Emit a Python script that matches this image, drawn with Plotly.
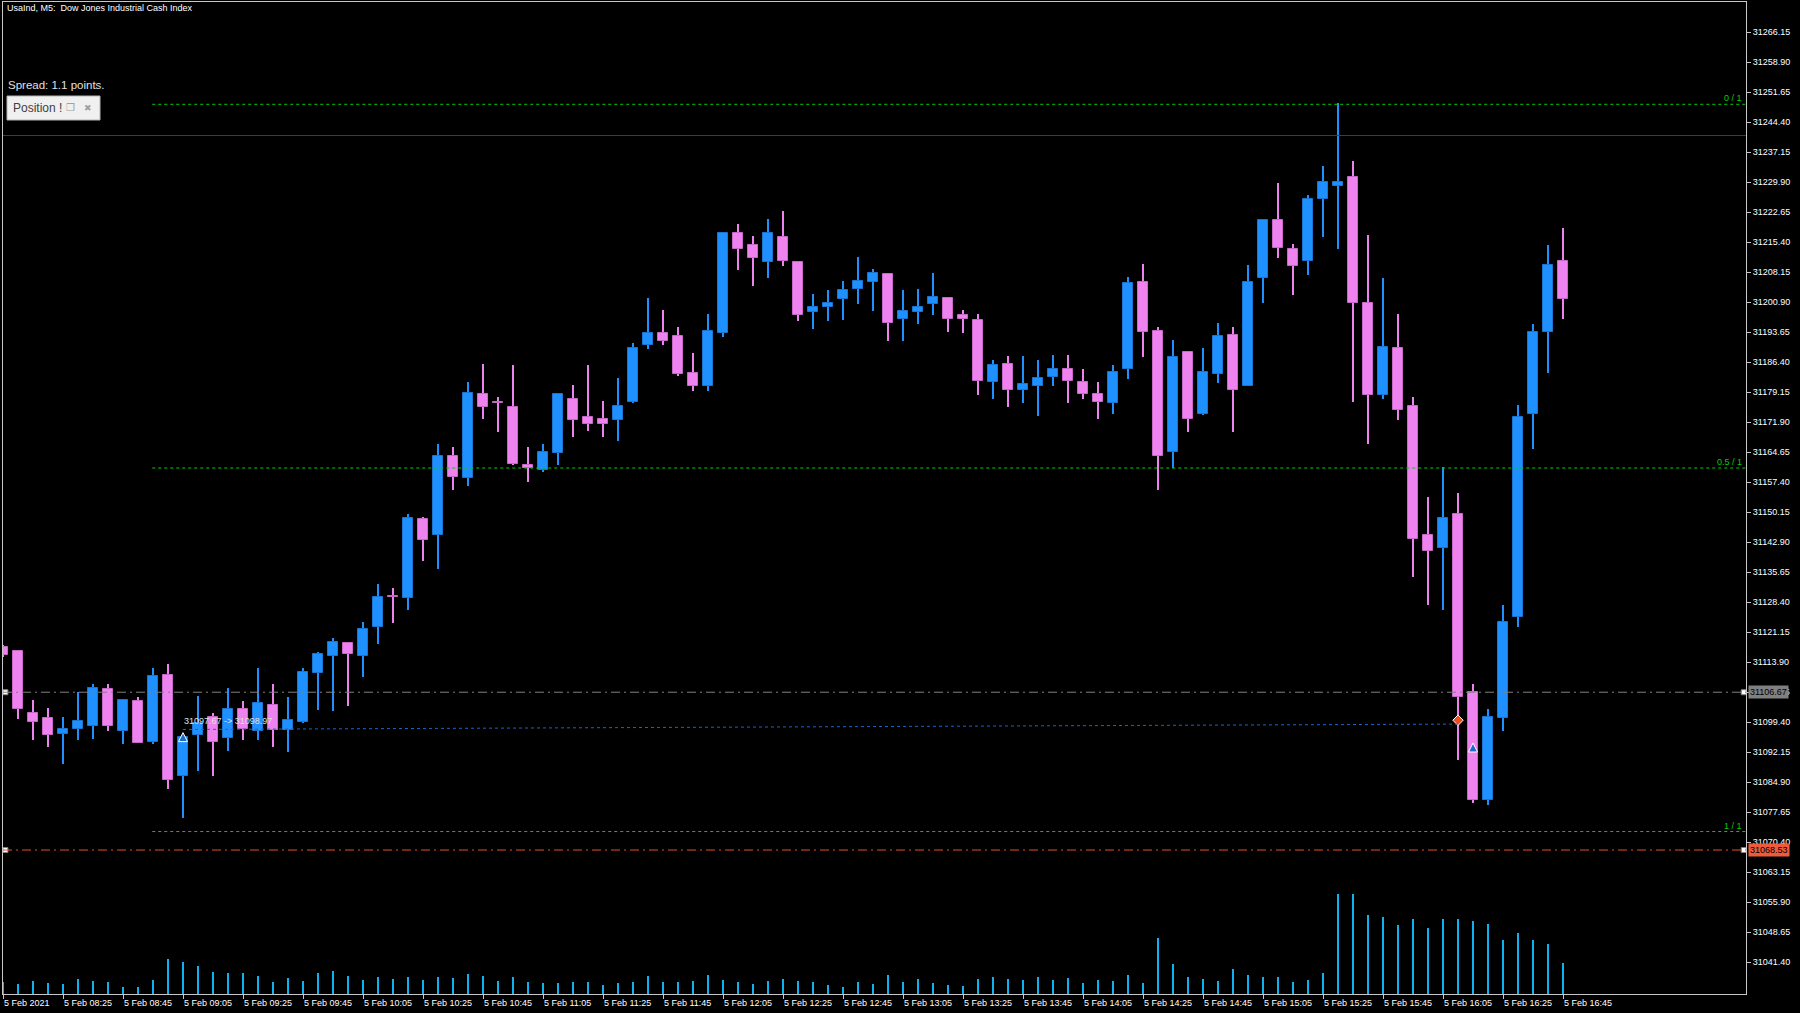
import plotly.graph_objects as go

# ---------------- data ----------------
bar_index = list(range(105))
opens = [31117.53, 31116.63, 31101.65, 31100.37, 31096.57, 31097.71, 31098.58, 31107.38, 31097.23, 31104.62,
         31094.71, 31110.76, 31086.35, 31096.33, 31100.61, 31095.68, 31102.62, 31097.30, 31103.51, 31097.54,
         31099.47, 31111.32, 31115.35, 31118.64, 31115.42, 31122.43, 31129.85, 31129.37, 31148.61, 31144.67,
         31163.76, 31158.44, 31178.74, 31176.81, 31175.60, 31161.51, 31160.45, 31164.56, 31177.61, 31173.11,
         31172.63, 31172.46, 31176.74, 31190.66, 31193.48, 31192.76, 31183.74, 31180.68, 31193.56, 31217.72,
         31214.75, 31210.57, 31216.76, 31210.72, 31198.56, 31199.70, 31201.77, 31204.04, 31205.88, 31207.74,
         31196.79, 31198.56, 31200.57, 31201.87, 31197.76, 31196.63, 31181.57, 31185.99, 31179.78, 31180.60,
         31182.92, 31184.86, 31181.64, 31178.67, 31176.57, 31184.71, 31205.88, 31193.90, 31164.80, 31188.89,
         31173.84, 31183.58, 31193.00, 31180.60, 31206.70, 31220.86, 31213.86, 31210.81, 31225.79, 31229.01,
         31231.11, 31200.66, 31178.60, 31189.84, 31175.72, 31144.67, 31141.62, 31149.72, 31106.63, 31080.53,
         31100.44, 31124.73, 31173.79, 31193.82, 31210.91]
highs = [31118.08, 31116.63, 31104.86, 31102.86, 31100.61, 31106.65, 31108.66, 31108.66, 31104.86, 31105.52,
         31112.52, 31113.49, 31096.33, 31105.76, 31101.65, 31107.62, 31104.62, 31112.52, 31108.66, 31105.52,
         31112.52, 31116.46, 31119.85, 31118.81, 31123.64, 31132.75, 31131.86, 31149.74, 31148.95, 31166.73,
         31165.86, 31181.71, 31185.99, 31178.02, 31185.75, 31165.86, 31166.73, 31178.98, 31180.84, 31185.75,
         31176.98, 31182.61, 31190.99, 31201.82, 31199.04, 31194.93, 31188.72, 31198.08, 31217.97, 31219.83,
         31216.85, 31220.96, 31222.97, 31210.96, 31202.98, 31203.88, 31205.98, 31211.85, 31208.88, 31207.74,
         31203.88, 31204.12, 31207.98, 31201.87, 31198.97, 31198.00, 31186.89, 31187.85, 31187.85, 31186.89,
         31188.09, 31188.09, 31184.86, 31181.64, 31185.75, 31206.95, 31210.09, 31194.86, 31191.87, 31188.89,
         31189.86, 31195.97, 31194.86, 31209.84, 31220.86, 31229.73, 31214.99, 31226.83, 31233.84, 31249.07,
         31235.05, 31217.10, 31206.85, 31198.03, 31178.09, 31153.75, 31161.08, 31154.77, 31108.66, 31102.57,
         31127.77, 31176.04, 31195.73, 31214.75, 31218.91]
lows = [31115.18, 31100.13, 31095.20, 31093.36, 31089.26, 31095.20, 31095.44, 31097.23, 31094.23, 31094.33,
        31094.23, 31083.36, 31076.35, 31087.71, 31086.50, 31092.47, 31095.20, 31095.20, 31093.36, 31092.22,
        31099.30, 31102.45, 31102.21, 31103.41, 31110.42, 31118.32, 31123.47, 31126.47, 31138.46, 31136.45,
        31155.47, 31156.58, 31172.70, 31169.56, 31161.58, 31157.55, 31159.82, 31161.58, 31168.42, 31169.73,
        31168.42, 31167.46, 31176.50, 31189.54, 31190.66, 31183.09, 31179.47, 31179.54, 31192.45, 31208.78,
        31204.84, 31206.70, 31209.60, 31196.46, 31194.45, 31196.46, 31196.70, 31200.57, 31198.73, 31191.48,
        31191.55, 31195.59, 31197.91, 31193.80, 31193.56, 31178.57, 31177.46, 31175.67, 31176.57, 31173.35,
        31180.60, 31176.50, 31177.46, 31172.70, 31173.84, 31182.44, 31187.68, 31155.47, 31160.78, 31169.49,
        31173.59, 31181.47, 31169.49, 31180.60, 31200.81, 31211.68, 31202.59, 31207.57, 31216.68, 31213.71,
        31176.81, 31166.54, 31177.65, 31172.53, 31134.42, 31127.66, 31126.64, 31090.41, 31079.85, 31079.51,
        31097.40, 31122.38, 31165.47, 31183.91, 31196.75]
closes = [31115.59, 31102.69, 31099.47, 31096.33, 31097.78, 31099.64, 31107.76, 31098.58, 31104.86, 31094.33,
          31110.52, 31085.46, 31095.85, 31099.31, 31094.71, 31102.62, 31097.71, 31103.99, 31097.54, 31099.89,
          31111.63, 31115.98, 31118.88, 31115.83, 31121.88, 31129.61, 31129.61, 31148.77, 31143.46, 31163.76,
          31158.68, 31178.98, 31175.67, 31176.62, 31161.83, 31160.79, 31164.73, 31178.74, 31172.46, 31171.56,
          31171.56, 31175.84, 31189.86, 31193.48, 31191.55, 31183.58, 31180.60, 31193.90, 31217.72, 31213.71,
          31211.68, 31217.72, 31210.81, 31197.91, 31199.84, 31200.73, 31203.88, 31205.98, 31207.91, 31195.83,
          31198.87, 31199.84, 31202.11, 31196.79, 31196.79, 31181.81, 31185.75, 31179.71, 31181.09, 31182.61,
          31184.86, 31181.81, 31178.82, 31176.81, 31183.99, 31205.64, 31193.80, 31163.69, 31187.76, 31172.70,
          31183.99, 31192.76, 31179.71, 31205.88, 31220.86, 31213.95, 31209.60, 31225.87, 31229.90, 31229.90,
          31200.81, 31178.60, 31190.05, 31174.80, 31143.75, 31140.83, 31148.83, 31105.61, 31080.53, 31100.78,
          31123.62, 31173.11, 31193.70, 31209.80, 31201.80]
volumes = [120, 100, 133, 113, 103, 150, 133, 123, 73, 73,
           143, 350, 320, 283, 223, 207, 207, 180, 123, 160,
           133, 207, 233, 180, 143, 170, 150, 170, 143, 170,
           160, 200, 180, 133, 170, 123, 113, 113, 123, 123,
           93, 113, 123, 180, 123, 123, 133, 187, 143, 123,
           103, 133, 150, 133, 123, 93, 67, 123, 103, 190,
           123, 150, 113, 93, 83, 150, 170, 150, 143, 170,
           143, 160, 113, 143, 133, 190, 113, 560, 303, 170,
           150, 133, 253, 190, 170, 170, 123, 143, 207, 1000,
           1000, 795, 770, 690, 750, 660, 750, 750, 726, 700,
           540, 610, 540, 496, 310]

x_tick_idx = list(range(0, 105, 4))
x_tick_labels = ["5 Feb 2021", "5 Feb 08:25", "5 Feb 08:45", "5 Feb 09:05", "5 Feb 09:25", "5 Feb 09:45",
                 "5 Feb 10:05", "5 Feb 10:25", "5 Feb 10:45", "5 Feb 11:05", "5 Feb 11:25", "5 Feb 11:45",
                 "5 Feb 12:05", "5 Feb 12:25", "5 Feb 12:45", "5 Feb 13:05", "5 Feb 13:25", "5 Feb 13:45",
                 "5 Feb 14:05", "5 Feb 14:25", "5 Feb 14:45", "5 Feb 15:05", "5 Feb 15:25", "5 Feb 15:45",
                 "5 Feb 16:05", "5 Feb 16:25", "5 Feb 16:45"]
y_tick_vals = [31266.15, 31258.90, 31251.65, 31244.40, 31237.15, 31229.90, 31222.65, 31215.40,
               31208.15, 31200.90, 31193.65, 31186.40, 31179.15, 31171.90, 31164.65, 31157.40,
               31150.15, 31142.90, 31135.65, 31128.40, 31121.15, 31113.90, 31106.65, 31099.40,
               31092.15, 31084.90, 31077.65, 31070.40, 31063.15, 31055.90, 31048.65, 31041.40]

bid_level = 31106.67
stop_level = 31068.53
alert_level = 31241.20
fib_levels = [31248.75, 31160.85, 31073.00]
fib_labels = ["0 / 1", "0.5 / 1", "1 / 1"]
fib_start = 9.95
trade_open = (12, 31097.67)
trade_close = (97, 31098.97)
trade_text = "31097.67 -> 31098.97"
buy_arrows_x = [12, 98]
buy_arrows_y = [31096.90, 31094.40]
close_mark_x = [97]
close_mark_y = [31099.90]

# ---------------- styling ----------------
W, H = 1800, 1013
ML, MR, MT, MB = 3, 54, 2, 19
X_RANGE = [0.0, 116.2]
Y_RANGE = [31033.74, 31273.47]
BULL = "#1E90FF"
BEAR = "#EE82EE"
BULL_EDGE = "#1A74D2"
BEAR_EDGE = "#C767C7"
VOL = "#0DB2F0"
AXC = "#C8C8C8"
FONT = "Liberation Sans, Arial, sans-serif"


def pp(x, y):
    """pixel position -> paper coordinates (for decorations only)"""
    return (x - ML) / (W - ML - MR), (H - MB - y) / (H - MT - MB)


bull_idx = [i for i in bar_index if closes[i] >= opens[i]]
bear_idx = [i for i in bar_index if closes[i] < opens[i]]

fig = go.Figure()

# volumes
fig.add_trace(go.Bar(x=bar_index, y=volumes, width=0.14, marker=dict(color=VOL, line=dict(width=0)),
                     yaxis="y2", hoverinfo="skip", showlegend=False))

# wicks and bodies
for idx, col, edge in [(bull_idx, BULL, BULL_EDGE), (bear_idx, BEAR, BEAR_EDGE)]:
    fig.add_trace(go.Bar(x=[bar_index[i] for i in idx],
                         y=[highs[i] - lows[i] for i in idx],
                         base=[lows[i] for i in idx],
                         width=0.07, marker=dict(color=col, line=dict(width=0)),
                         hoverinfo="skip", showlegend=False))
for idx, col, edge in [(bull_idx, BULL, BULL_EDGE), (bear_idx, BEAR, BEAR_EDGE)]:
    fig.add_trace(go.Bar(x=[bar_index[i] for i in idx],
                         y=[max(abs(closes[i] - opens[i]), 0.25) for i in idx],
                         base=[min(opens[i], closes[i]) for i in idx],
                         width=0.64, marker=dict(color=col, line=dict(color=edge, width=1)),
                         hoverinfo="skip", showlegend=False))

# trade markers
fig.add_trace(go.Scatter(x=buy_arrows_x, y=buy_arrows_y, mode="markers",
                         marker=dict(symbol="arrow-up", size=9, color="#1A6CC8",
                                     line=dict(color="white", width=1)),
                         hoverinfo="skip", showlegend=False))
fig.add_trace(go.Scatter(x=close_mark_x, y=close_mark_y, mode="markers",
                         marker=dict(symbol="diamond", size=8, color="#E8501E",
                                     line=dict(color="white", width=1)),
                         hoverinfo="skip", showlegend=False))
# selection handles of the horizontal lines
fig.add_trace(go.Scatter(x=[0.16, 116.05, 0.16, 116.05], y=[bid_level, bid_level, stop_level, stop_level],
                         mode="markers", marker=dict(symbol="square", size=5, color="white",
                                                     line=dict(color="#808080", width=1)),
                         cliponaxis=False, hoverinfo="skip", showlegend=False))

shapes = []
shapes.append(dict(type="line", xref="paper", x0=0, x1=1, yref="y", y0=alert_level, y1=alert_level,
                   line=dict(color="#D00000", width=1)))
for lv in fib_levels:
    shapes.append(dict(type="line", xref="x", x0=fib_start, x1=X_RANGE[1], yref="y", y0=lv, y1=lv,
                       line=dict(color="#00D000", width=1, dash="3px,3px")))
shapes.append(dict(type="line", xref="paper", x0=0, x1=1, yref="y", y0=bid_level, y1=bid_level,
                   line=dict(color="#808080", width=1, dash="9px,4px,2px,4px")))
shapes.append(dict(type="line", xref="paper", x0=0, x1=1, yref="y", y0=stop_level, y1=stop_level,
                   line=dict(color="#E0502E", width=1, dash="9px,4px,2px,4px")))
shapes.append(dict(type="line", xref="x", x0=trade_open[0], x1=trade_close[0], yref="y",
                   y0=trade_open[1], y1=trade_close[1], line=dict(color="#1E64C8", width=1, dash="3px,3px")))
bx0, by0 = pp(7, 120)
bx1, by1 = pp(100, 96)
shapes.append(dict(type="rect", xref="paper", yref="paper", x0=bx0, y0=by0, x1=bx1, y1=by1,
                   fillcolor="#F0F0F0", line=dict(color="#B4B4B4", width=1)))

ann = []
tx, ty = pp(5, 8)
ann.append(dict(text="UsaInd, M5:  Dow Jones Industrial Cash Index", x=tx, y=ty, xref="paper", yref="paper",
                xanchor="left", yanchor="middle", showarrow=False, font=dict(family=FONT, size=9, color="white")))
tx, ty = pp(6, 85)
ann.append(dict(text="Spread: 1.1 points.", x=tx, y=ty, xref="paper", yref="paper",
                xanchor="left", yanchor="middle", showarrow=False, font=dict(family=FONT, size=11.5, color="#E0E0E0")))
tx, ty = pp(11, 108)
ann.append(dict(text="Position !", x=tx, y=ty, xref="paper", yref="paper",
                xanchor="left", yanchor="middle", showarrow=False, font=dict(family=FONT, size=12, color="#404040")))
tx, ty = pp(70, 108)
ann.append(dict(text="❐", x=tx, y=ty, xref="paper", yref="paper",
                xanchor="center", yanchor="middle", showarrow=False, font=dict(family="DejaVu Sans", size=10, color="#A0A0A0")))
tx, ty = pp(88, 108)
ann.append(dict(text="✖", x=tx, y=ty, xref="paper", yref="paper",
                xanchor="center", yanchor="middle", showarrow=False, font=dict(family="DejaVu Sans", size=9, color="#A0A0A0")))
ann.append(dict(text=trade_text, x=trade_open[0], y=trade_open[1], xref="x", yref="y", xanchor="left",
                yanchor="middle", xshift=-1, yshift=8, showarrow=False,
                font=dict(family=FONT, size=9, color="#E0E0E0")))
for lv, lb in zip(fib_levels, fib_labels):
    ann.append(dict(text=lb, x=(1744 - ML) / (W - ML - MR), y=lv, xref="paper", yref="y", xanchor="right",
                    yanchor="middle", yshift=6, showarrow=False, font=dict(family=FONT, size=9, color="#00D000")))
for lv, bg in [(bid_level, "#808080"), (stop_level, "#F05A3C")]:
    ann.append(dict(text=f"{lv:.2f}", x=1, y=lv, xref="paper", yref="y", xanchor="left", yanchor="middle",
                    xshift=2, showarrow=False, bgcolor=bg, borderpad=1,
                    font=dict(family=FONT, size=9, color="black")))

fig.update_layout(
    width=W, height=H, margin=dict(l=ML, r=MR, t=MT, b=MB),
    paper_bgcolor="black", plot_bgcolor="black", barmode="overlay", bargap=0,
    shapes=shapes, annotations=ann, showlegend=False,
    xaxis=dict(range=X_RANGE, tickmode="array", tickvals=x_tick_idx, ticktext=x_tick_labels,
               ticks="outside", ticklen=4, tickcolor=AXC, ticklabelposition="outside right",
               tickfont=dict(family=FONT, size=9, color="white"), showgrid=False, zeroline=False,
               showline=True, linecolor=AXC, linewidth=1, mirror=True),
    yaxis=dict(range=Y_RANGE, side="right", tickmode="array", tickvals=y_tick_vals,
               ticktext=[f"{v:.2f}" for v in y_tick_vals], ticks="outside", ticklen=4, tickcolor=AXC,
               tickfont=dict(family=FONT, size=9, color="white"), showgrid=False, zeroline=False,
               showline=True, linecolor=AXC, linewidth=1, mirror=True),
    yaxis2=dict(range=[0, 9920], overlaying="y", visible=False),
)

fig.write_html("out.html", config={"displayModeBar": False},
               post_script="document.body.style.margin='0';document.body.style.background='black';")
